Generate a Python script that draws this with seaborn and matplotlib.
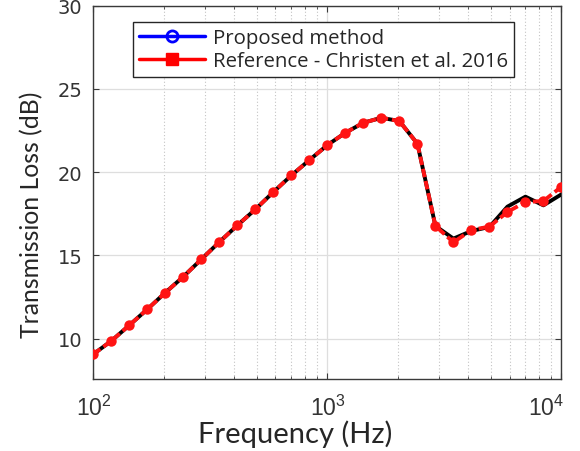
import matplotlib
matplotlib.use("Agg")
import numpy as np
import pandas as pd
import matplotlib.pyplot as plt
import matplotlib.transforms as mtransforms
import seaborn as sns
from matplotlib.lines import Line2D
from matplotlib.ticker import LogLocator, NullFormatter

# frequency points (Hz)
freq = [100, 119.4, 142.5, 170.1, 203.1, 242.5, 289.4, 345.5, 412.5, 492.4, 587.8,
        701.7, 837.7, 1000, 1193.8, 1425.1, 1701.3, 2030.9, 2424.5, 2894.3, 3455.1,
        4124.6, 4923.9, 5878.0, 7017.0, 8376.8, 10000]

# transmission loss (dB)
tl_proposed = [9.06, 9.86, 10.80, 11.76, 12.76, 13.72, 14.76, 15.80, 16.80, 17.76, 18.80,
               19.80, 20.72, 21.62, 22.36, 22.96, 23.26, 23.06, 21.70, 16.76, 16.00,
               16.46, 16.70, 17.92, 18.52, 18.00, 18.66]
tl_reference = [9.06, 9.86, 10.80, 11.76, 12.76, 13.72, 14.76, 15.80, 16.80, 17.76, 18.80,
                19.80, 20.72, 21.62, 22.36, 22.96, 23.26, 23.06, 21.70, 16.76, 15.78,
                16.52, 16.72, 17.60, 18.20, 18.26, 19.12]

legend_labels = ["Proposed method", "Reference - Christen et al. 2016"]

df = pd.DataFrame({"freq": freq, "proposed": tl_proposed, "reference": tl_reference})

sns.set_style("ticks")
plt.rcParams["font.family"] = ["Lato", "DejaVu Sans"]
plt.rcParams["mathtext.fontset"] = "custom"
plt.rcParams["mathtext.rm"] = "Liberation Sans"
plt.rcParams["mathtext.it"] = "Liberation Sans"

fig = plt.figure(figsize=(5.8, 4.52), dpi=100)
ax = fig.add_axes([0.161, 0.159, 0.807, 0.8265])

sns.lineplot(data=df, x="freq", y="proposed", ax=ax, color="black", linewidth=2.8,
             zorder=3)
sns.lineplot(data=df, x="freq", y="reference", ax=ax, color="#ff1414", linewidth=2.8,
             linestyle=(0, (2.2, 1.0)), marker="o", markersize=7.5,
             markeredgewidth=0, zorder=4)

ax.set_xscale("log")
ax.set_xlim(100, 10000)
ax.set_ylim(7.56, 30)
ax.set_yticks([10, 15, 20, 25, 30])
ax.xaxis.set_minor_locator(LogLocator(base=10, subs=np.arange(2, 10)))
ax.xaxis.set_minor_formatter(NullFormatter())

ax.grid(True, which="major", color="#dedede", linewidth=0.9, linestyle="-")
ax.grid(True, which="minor", axis="x", color="#c4c4c4", linewidth=0.8, linestyle=(0, (1, 2)))
ax.set_axisbelow(True)

for s in ax.spines.values():
    s.set_color("#3a3a3a")
    s.set_linewidth(1.0)
    s.set_visible(True)

ax.tick_params(which="both", direction="in", top=True, right=True, color="#3a3a3a")
ax.tick_params(which="major", length=4)
ax.tick_params(which="minor", length=2.5)
ax.tick_params(axis="y", labelsize=14, labelcolor="#333333", pad=8)
ax.tick_params(axis="x", labelsize=16.5, labelcolor="#333333", pad=11)
for lab in ax.get_yticklabels():
    lab.set_family("DejaVu Sans")
for lab in ax.get_xticklabels():
    lab.set_family("Liberation Sans")

# last decade label sits a little inside the frame, as in the original
fig.canvas.draw()
xlabs = ax.get_xticklabels()
last = [t for t in xlabs if "4" in t.get_text()]
if last:
    shift = mtransforms.ScaledTranslation(-15 / 100, 0, fig.dpi_scale_trans)
    last[-1].set_transform(last[-1].get_transform() + shift)

ax.set_xlabel("Frequency (Hz)", fontsize=21)
ax.set_ylabel("Transmission Loss (dB)", fontsize=17.8)
ax.xaxis.set_label_coords(0.431, -0.108)
ax.yaxis.set_label_coords(-0.107, 0.442)

handles = [
    Line2D([], [], color="blue", linewidth=2.5, marker="o", markersize=8,
           markerfacecolor="none", markeredgecolor="blue", markeredgewidth=2),
    Line2D([], [], color="red", linewidth=2.5, marker="s", markersize=8,
           markerfacecolor="red", markeredgecolor="red"),
]
leg = ax.legend(handles, legend_labels, loc="upper left", bbox_to_anchor=(0.085, 0.955),
                borderaxespad=0, handlelength=3.2, handletextpad=0.4,
                labelspacing=0.12, borderpad=0.3, fancybox=False, framealpha=1,
                edgecolor="#262626", prop={"family": "Open Sans", "size": 14.7})
leg.get_frame().set_linewidth(1.0)

fig.savefig("out.png", dpi=100)
